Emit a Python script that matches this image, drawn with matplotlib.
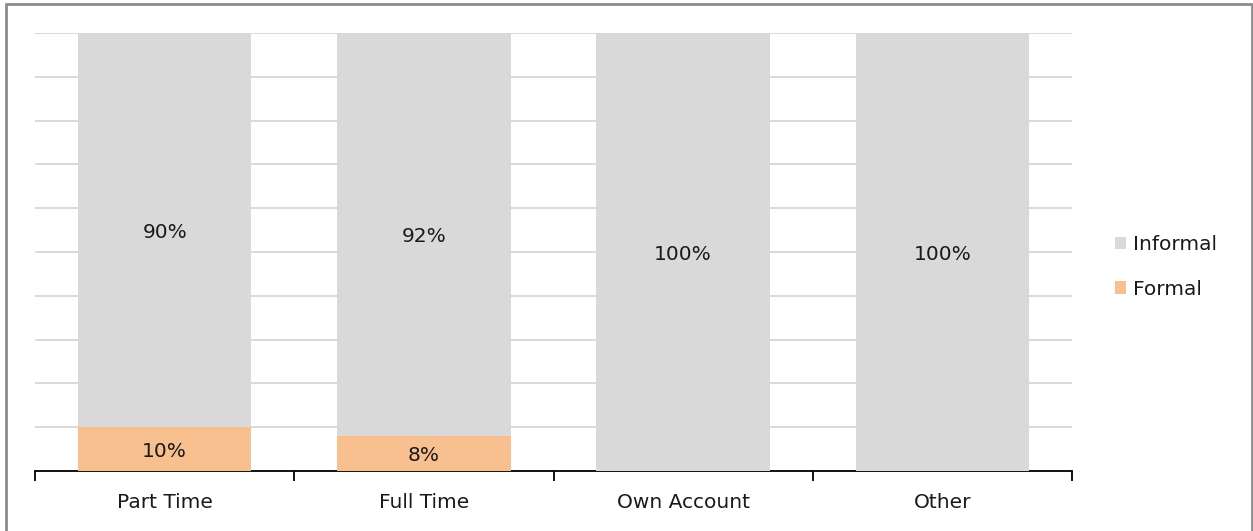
import matplotlib.pyplot as plt
from matplotlib.patches import Rectangle

# 데이터
categories = ["Part Time", "Full Time", "Own Account", "Other"]
formal = [10, 8, 0, 0]
informal = [90, 92, 100, 100]
formal_labels = ["10%", "8%", "", ""]
informal_labels = ["90%", "92%", "100%", "100%"]

plt.rcParams["font.family"] = ["DejaVu Sans"]

W, H = 1253, 531
fig = plt.figure(figsize=(W / 100, H / 100), dpi=100)
ax = fig.add_axes([35 / W, 1 - 471 / H, (1072 - 35) / W, (471 - 33) / H])

x = list(range(len(categories)))
gray = "#D9D9D9"
orange = "#F8C08F"
txt = "#1A1A1A"

b1 = ax.bar(x, formal, width=0.67, color=orange, label="Formal", zorder=3)
b2 = ax.bar(x, informal, width=0.67, bottom=formal, color=gray, label="Informal", zorder=3)

# 막대 가운데 라벨 (살짝 아래로)
for bars, labs in [(b1, formal_labels), (b2, informal_labels)]:
    for rect, lab in zip(bars, labs):
        if not lab:
            continue
        cx = rect.get_x() + rect.get_width() / 2
        cy = rect.get_y() + rect.get_height() / 2
        ax.annotate(lab, (cx, cy), xytext=(0, -2), textcoords="offset pixels",
                    ha="center", va="center", fontsize=14.5, color=txt, zorder=4)

ax.set_xlim(-0.5, len(categories) - 0.5)
ax.set_ylim(0, 100)
ax.set_yticks(range(0, 101, 10))
ax.yaxis.grid(True, color="#D9D9D9", linewidth=1.4, zorder=0)
ax.tick_params(axis="y", length=0, labelleft=False)

# 축 눈금: 카테고리 경계에 표시
ax.set_xticks([i - 0.5 for i in range(len(categories) + 1)])
ax.set_xticklabels([])
ax.set_xticks(x, minor=True)
ax.set_xticklabels(categories, minor=True, fontsize=14.5, color=txt)
ax.tick_params(axis="x", which="major", length=7, width=1.3, color="black", direction="out")
ax.tick_params(axis="x", which="minor", length=0, pad=16)

for s in ["top", "right", "left"]:
    ax.spines[s].set_visible(False)
ax.spines["bottom"].set_linewidth(1.3)
ax.spines["bottom"].set_color("black")

handles, labels = ax.get_legend_handles_labels()
fig.legend(handles[::-1], labels[::-1], loc="center left",
           bbox_to_anchor=(1097 / W, 1 - 267 / H), frameon=False,
           fontsize=14.5, handlelength=0.55, handleheight=0.55,
           handletextpad=0.35, labelspacing=1.25, labelcolor=txt)

# 외곽 테두리
fig.patches.append(Rectangle((5.5 / W, -0.05), (1252 - 5.5) / W, 1 - 4.5 / H + 0.05,
                             transform=fig.transFigure, fill=False,
                             edgecolor="#8C8C8C", linewidth=2))

fig.savefig("out.png", dpi=100)
